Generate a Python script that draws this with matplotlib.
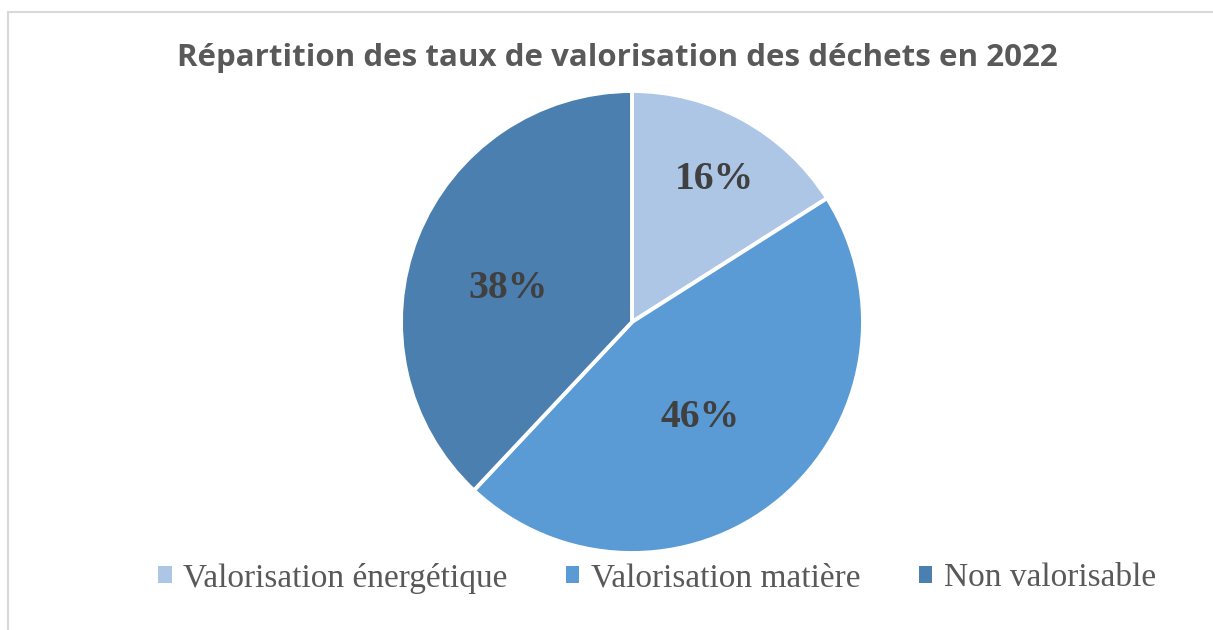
import matplotlib
matplotlib.use("Agg")
import matplotlib.pyplot as plt
import matplotlib.patches as mpatches
import numpy as np

# data
categories = ["Valorisation énergétique", "Valorisation matière", "Non valorisable"]
values = [16, 46, 38]
colors = ["#AEC6E6", "#5B9BD5", "#4A7FB0"]
# label placement (fraction of radius, angle in degrees), like Excel's "best fit"
label_dist = [0.727, 0.493, 0.562]
label_angle = [60.4, -53.4, 163.4]

W, H = 1213, 630
fig = plt.figure(figsize=(W / 100, H / 100), dpi=100)

# outer frame (only top and left visible in the crop)
fig.patches.append(mpatches.Rectangle((8 / W, -0.1), 1.2, (H - 12) / H + 0.1,
                                      transform=fig.transFigure, fill=False,
                                      edgecolor="#D9D9D9", linewidth=1.5))

# pie axes: centre (632, 322), radius 231 px
cx, cy, r = 632, 322, 231
ax = fig.add_axes([(cx - r) / W, (H - cy - r) / H, 2 * r / W, 2 * r / H])
wedges, _ = ax.pie(values, colors=colors, startangle=90, counterclock=False,
                   radius=1, wedgeprops=dict(edgecolor="white", linewidth=2.8))
ax.set_xlim(-1, 1)
ax.set_ylim(-1, 1)
ax.set_aspect("equal")
ax.axis("off")

half_digit = 13.5 / r
for v, d, a in zip(values, label_dist, label_angle):
    ang = np.deg2rad(a)
    ax.text(d * np.cos(ang), d * np.sin(ang) - half_digit, f"{v}%", ha="center",
            va="baseline", fontsize=28.5, fontweight="bold", color="#404040",
            family="Liberation Serif")

fig.text(617 / W, 1 - 58 / H, "Répartition des taux de valorisation des déchets en 2022",
         ha="center", va="center", fontsize=22.5, fontweight="bold", color="#595959",
         family="Open Sans")

handles = [mpatches.Patch(facecolor=c, edgecolor="none") for c in colors]
leg = fig.legend(handles, categories, loc="center", bbox_to_anchor=(657 / W, 1 - 578 / H),
                 ncol=3, frameon=False, handlelength=0.4, handleheight=0.4,
                 handletextpad=0.35, columnspacing=1.75, borderpad=0, borderaxespad=0,
                 prop=dict(family="Liberation Serif", size=24))
for t in leg.get_texts():
    t.set_color("#595959")

fig.savefig("out.png", dpi=100)
